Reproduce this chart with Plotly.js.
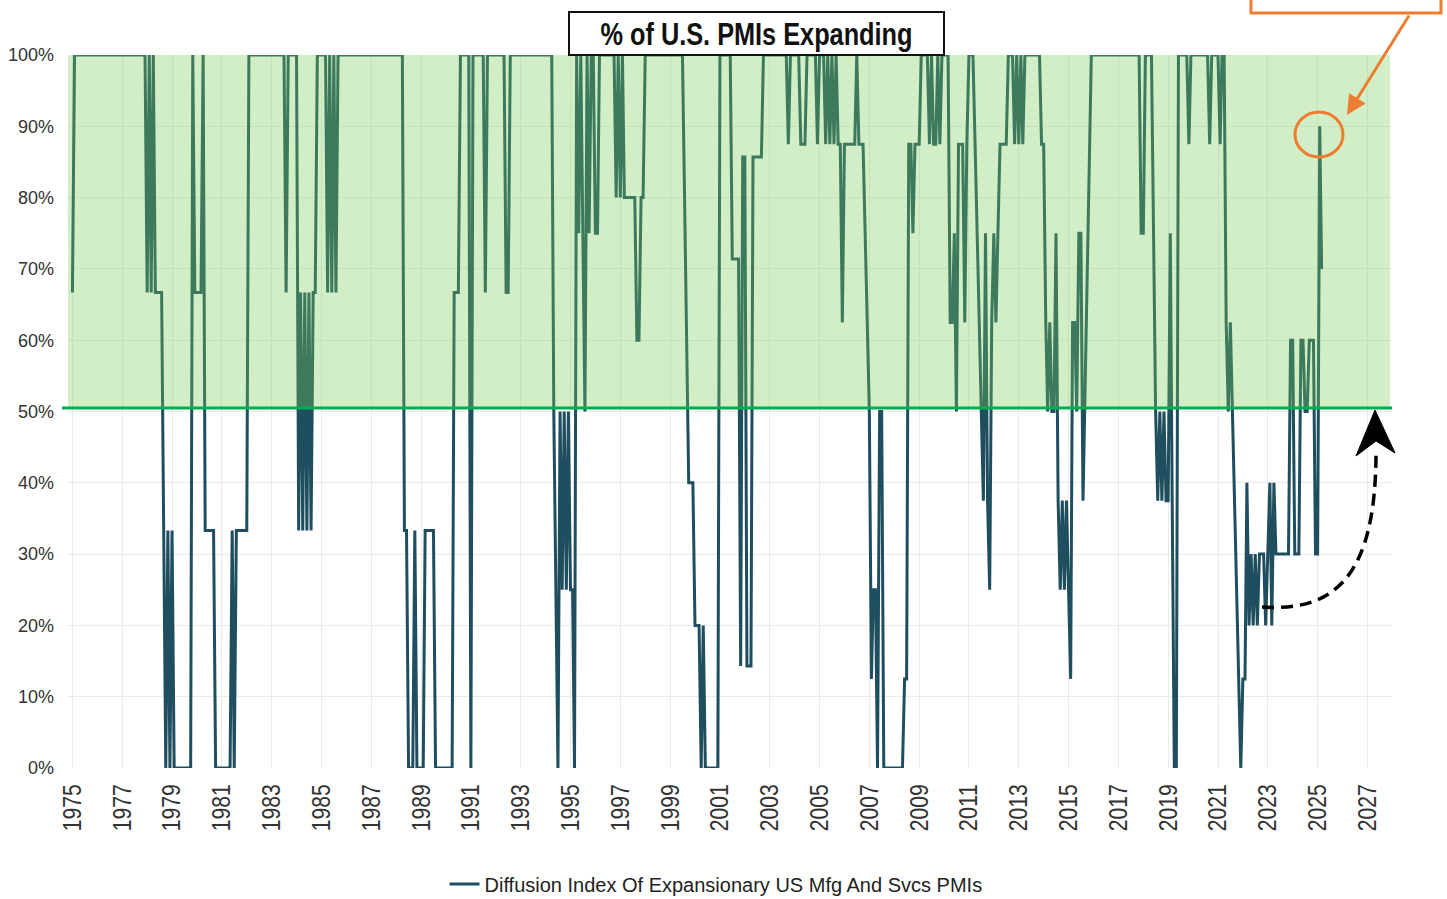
<!DOCTYPE html>
<html>
<head>
<meta charset="utf-8">
<script src="https://cdn.plot.ly/plotly-3.0.1.min.js"></script>
<style>
  html, body { margin: 0; padding: 0; background: #ffffff; }
  #chart { width: 1447px; height: 899px; }
</style>
</head>
<body>
<div id="chart"></div>
<script>
// ---- Data (month, % of PMIs expanding) ----
const dates = [
  '1975-01','1975-02','1977-12','1978-01','1978-02','1978-03','1978-04','1978-05','1978-08','1978-09',
  '1978-10','1978-11','1978-12','1979-01','1979-02','1979-10','1979-11','1979-12','1980-03','1980-04',
  '1980-05','1980-09','1980-10','1981-05','1981-06','1981-07','1981-08','1982-01','1982-02','1983-07',
  '1983-08','1983-09','1984-01','1984-02','1984-03','1984-04','1984-05','1984-06','1984-07','1984-08',
  '1984-09','1984-10','1984-11','1985-03','1985-04','1985-05','1985-06','1985-07','1985-08','1985-09',
  '1988-04','1988-05','1988-06','1988-07','1988-09','1988-10','1988-11','1989-02','1989-03','1989-07',
  '1989-08','1990-04','1990-05','1990-07','1990-08','1990-12','1991-01','1991-02','1991-07','1991-08',
  '1991-09','1992-05','1992-06','1992-07','1992-08','1994-04','1994-05','1994-07','1994-08','1994-09',
  '1994-10','1994-11','1994-12','1995-01','1995-02','1995-03','1995-04','1995-05','1995-06','1995-07',
  '1995-08','1995-09','1995-10','1995-11','1995-12','1996-01','1996-02','1996-03','1996-10','1996-11',
  '1996-12','1997-01','1997-02','1997-03','1997-08','1997-09','1997-10','1997-11','1997-12','1998-01',
  '1999-07','1999-08','1999-09','1999-10','1999-12','2000-01','2000-03','2000-04','2000-05','2000-06',
  '2000-12','2001-01','2001-06','2001-07','2001-10','2001-11','2001-12','2002-01','2002-02','2002-04',
  '2002-05','2002-09','2002-10','2003-09','2003-10','2003-11','2004-03','2004-04','2004-06','2004-07',
  '2004-11','2004-12','2005-01','2005-03','2005-04','2005-05','2005-06','2005-07','2005-08','2005-09',
  '2005-10','2005-11','2005-12','2006-01','2006-06','2006-07','2006-08','2006-10','2007-01','2007-02',
  '2007-03','2007-04','2007-05','2007-06','2007-07','2007-08','2008-05','2008-06','2008-07','2008-08',
  '2008-09','2008-10','2008-11','2009-01','2009-02','2009-05','2009-06','2009-07','2009-08','2009-09',
  '2009-10','2009-11','2009-12','2010-03','2010-04','2010-05','2010-06','2010-07','2010-08','2010-10',
  '2010-11','2010-12','2011-01','2011-03','2011-04','2011-05','2011-06','2011-07','2011-08','2011-09',
  '2011-10','2011-11','2011-12','2012-01','2012-02','2012-03','2012-04','2012-07','2012-08','2012-10',
  '2012-11','2012-12','2013-01','2013-02','2013-03','2013-04','2013-11','2013-12','2014-01','2014-02',
  '2014-03','2014-04','2014-05','2014-06','2014-07','2014-08','2014-09','2014-10','2014-11','2014-12',
  '2015-01','2015-02','2015-03','2015-04','2015-05','2015-06','2015-07','2015-08','2015-12','2017-11',
  '2017-12','2018-01','2018-02','2018-05','2018-07','2018-08','2018-09','2018-10','2018-11','2018-12',
  '2019-01','2019-02','2019-03','2019-04','2019-05','2019-06','2019-10','2019-11','2019-12','2020-08',
  '2020-09','2020-10','2021-01','2021-02','2021-03','2021-04','2021-05','2021-06','2021-07','2021-08',
  '2021-12','2022-01','2022-02','2022-03','2022-04','2022-05','2022-06','2022-07','2022-08','2022-09',
  '2022-11','2022-12','2023-01','2023-02','2023-03','2023-04','2023-05','2023-11','2023-12','2024-01',
  '2024-02','2024-04','2024-05','2024-06','2024-07','2024-08','2024-09','2024-11','2024-12','2025-01',
  '2025-02','2025-03'
];
const pctExpanding = [
  66.7,100,100,66.7,100,66.7,100,66.7,66.7,33.3,
  0,33.3,0,33.3,0,0,100,66.7,66.7,100,
  33.3,33.3,0,0,33.3,0,33.3,33.3,100,100,
  66.7,100,100,33.3,66.7,33.3,66.7,33.3,66.7,33.3,
  66.7,66.7,100,100,66.7,100,66.7,100,66.7,100,
  100,33.3,33.3,0,0,33.3,0,0,33.3,33.3,
  0,0,66.7,66.7,100,100,0,100,100,66.7,
  100,100,66.7,66.7,100,100,50,0,50,25,
  50,25,50,25,25,0,100,75,100,75,
  50,100,75,100,100,75,75,100,100,80,
  100,80,100,80,80,60,60,80,80,100,
  100,80,60,40,40,20,20,0,20,0,
  0,100,100,71.4,71.4,14.3,85.7,85.7,14.3,14.3,
  85.7,85.7,100,100,87.5,100,100,87.5,87.5,100,
  100,87.5,100,100,87.5,100,87.5,100,87.5,100,
  87.5,87.5,62.5,87.5,87.5,100,87.5,87.5,50,12.5,
  25,25,0,50,50,0,0,12.5,12.5,87.5,
  87.5,75,87.5,87.5,100,100,87.5,100,87.5,87.5,
  100,87.5,100,100,62.5,62.5,75,50,87.5,87.5,
  62.5,87.5,100,100,87.5,75,62.5,50,37.5,75,
  37.5,25,62.5,75,62.5,75,87.5,87.5,100,100,
  87.5,100,87.5,100,87.5,100,100,87.5,87.5,62.5,
  50,62.5,50,50,75,37.5,25,37.5,25,37.5,
  25,12.5,62.5,62.5,50,75,75,37.5,100,100,
  75,75,100,100,50,37.5,50,37.5,50,37.5,
  37.5,75,37.5,0,0,100,100,87.5,100,100,
  87.5,100,100,87.5,100,100,62.5,50,62.5,50,
  0,12.5,12.5,40,20,30,20,30,20,30,
  30,20,30,40,20,40,30,30,60,60,
  30,30,60,60,50,50,60,60,30,30,
  90,70
];
const seriesName = 'Diffusion Index Of Expansionary US Mfg And Svcs PMIs';
const chartTitle = '% of U.S. PMIs Expanding';
const threshold = 50.5;   // drawn position of the 50% expansion line

// ---- layout helpers (pixel -> paper) ----
const M = {l: 68, r: 55, t: 55, b: 131};
const W = 1447, H = 899;
const PW = W - M.l - M.r, PH = H - M.t - M.b;
const px = x => (x - M.l) / PW;
const py = y => (H - M.b - y) / PH;

const SANS = '"Liberation Sans", Arial, sans-serif';
const ORANGE = '#ED7D31';

const trace = {
  x: dates,
  y: pctExpanding,
  type: 'scatter',
  mode: 'lines',
  name: seriesName,
  line: {color: '#1f4e5f', width: 3},
  hoverinfo: 'skip'
};

const dashedPath = `M ${px(1262)},${py(607)} C ${px(1336)},${py(612)} ${px(1376)},${py(575)} ${px(1376)},${py(452)}`;
const headPath = `M ${px(1375)},${py(410)} L ${px(1395)},${py(453)} L ${px(1376)},${py(441)} L ${px(1356)},${py(456)} Z`;

const layout = {
  width: W, height: H,
  margin: M,
  paper_bgcolor: '#ffffff',
  plot_bgcolor: '#ffffff',
  font: {family: SANS, color: '#333333'},
  title: {
    text: chartTitle,
    font: {family: SANS, size: 31, color: '#111111', weight: 'bold'},
    xref: 'paper', x: px(756.5), xanchor: 'center',
    yref: 'container', y: 1 - 34 / H, yanchor: 'middle'
  },
  xaxis: {
    type: 'date',
    range: ['1974-10-28', '2027-12-28'],
    tick0: '1975-01-01',
    dtick: 'M24',
    tickformat: '%Y',
    tickangle: -90,
    ticklabelstandoff: 10,
    tickfont: {family: SANS, size: 26, color: '#333333'},
    showgrid: true,
    gridcolor: '#ebebeb',
    gridwidth: 1,
    zeroline: false,
    showline: false,
    ticks: '',
    automargin: false
  },
  yaxis: {
    range: [0, 100],
    tickmode: 'linear',
    tick0: 0,
    dtick: 10,
    ticksuffix: '%',
    showticksuffix: 'all',
    tickfont: {family: SANS, size: 18, color: '#333333'},
    showgrid: true,
    gridcolor: '#ebebeb',
    gridwidth: 1,
    zeroline: false,
    showline: false,
    ticks: '',
    ticklabelstandoff: 13,
    automargin: false
  },
  showlegend: true,
  legend: {
    orientation: 'h',
    xref: 'paper', x: px(716), xanchor: 'center',
    yref: 'container', y: 1 - 884 / H, yanchor: 'middle',
    font: {family: SANS, size: 20, color: '#222222'},
    bgcolor: 'rgba(0,0,0,0)'
  },
  shapes: [
    {type: 'rect', xref: 'paper', yref: 'y', x0: 0, x1: px(1390), y0: threshold, y1: 100,
     fillcolor: 'rgba(120,205,87,0.34)', line: {width: 0}, layer: 'above'},
    {type: 'line', xref: 'paper', yref: 'y', x0: px(62), x1: px(1392), y0: threshold, y1: threshold,
     line: {color: '#00B050', width: 3}, layer: 'above'},
    {type: 'rect', xref: 'paper', yref: 'paper', x0: px(569), x1: px(944), y0: py(55), y1: py(12),
     fillcolor: '#ffffff', line: {color: '#111111', width: 2}, layer: 'above'},
    {type: 'rect', xref: 'paper', yref: 'paper', x0: px(1251), x1: px(1441), y0: py(13), y1: py(-30),
     fillcolor: 'rgba(0,0,0,0)', line: {color: ORANGE, width: 3}, layer: 'above'},
    {type: 'circle', xref: 'paper', yref: 'paper', x0: px(1295), x1: px(1343), y0: py(157), y1: py(112),
     line: {color: ORANGE, width: 3}, layer: 'above'},
    {type: 'path', xref: 'paper', yref: 'paper', path: dashedPath,
     line: {color: '#000000', width: 3.5, dash: '12px,7px'}, layer: 'above'},
    {type: 'path', xref: 'paper', yref: 'paper', path: headPath,
     fillcolor: '#000000', line: {color: '#000000', width: 1}, layer: 'above'}
  ],
  annotations: [
    {xref: 'paper', yref: 'paper', x: px(1347), y: py(115), ax: 1410 - 1347, ay: 14 - 115,
     axref: 'pixel', ayref: 'pixel', text: '', showarrow: true,
     arrowhead: 2, arrowsize: 1.3, arrowwidth: 3, arrowcolor: ORANGE, standoff: 0}
  ]
};

function condense(sel, len) {
  document.querySelectorAll(sel).forEach(t => {
    t.setAttribute('textLength', len);
    t.setAttribute('lengthAdjust', 'spacingAndGlyphs');
  });
}

Plotly.newPlot('chart', [trace], layout, {staticPlot: true, displayModeBar: false}).then(() => {
  // the reference uses condensed faces; squeeze real text to the same widths
  condense('.gtitle', 312);
  condense('.xtick text', 47);
});
</script>
</body>
</html>
